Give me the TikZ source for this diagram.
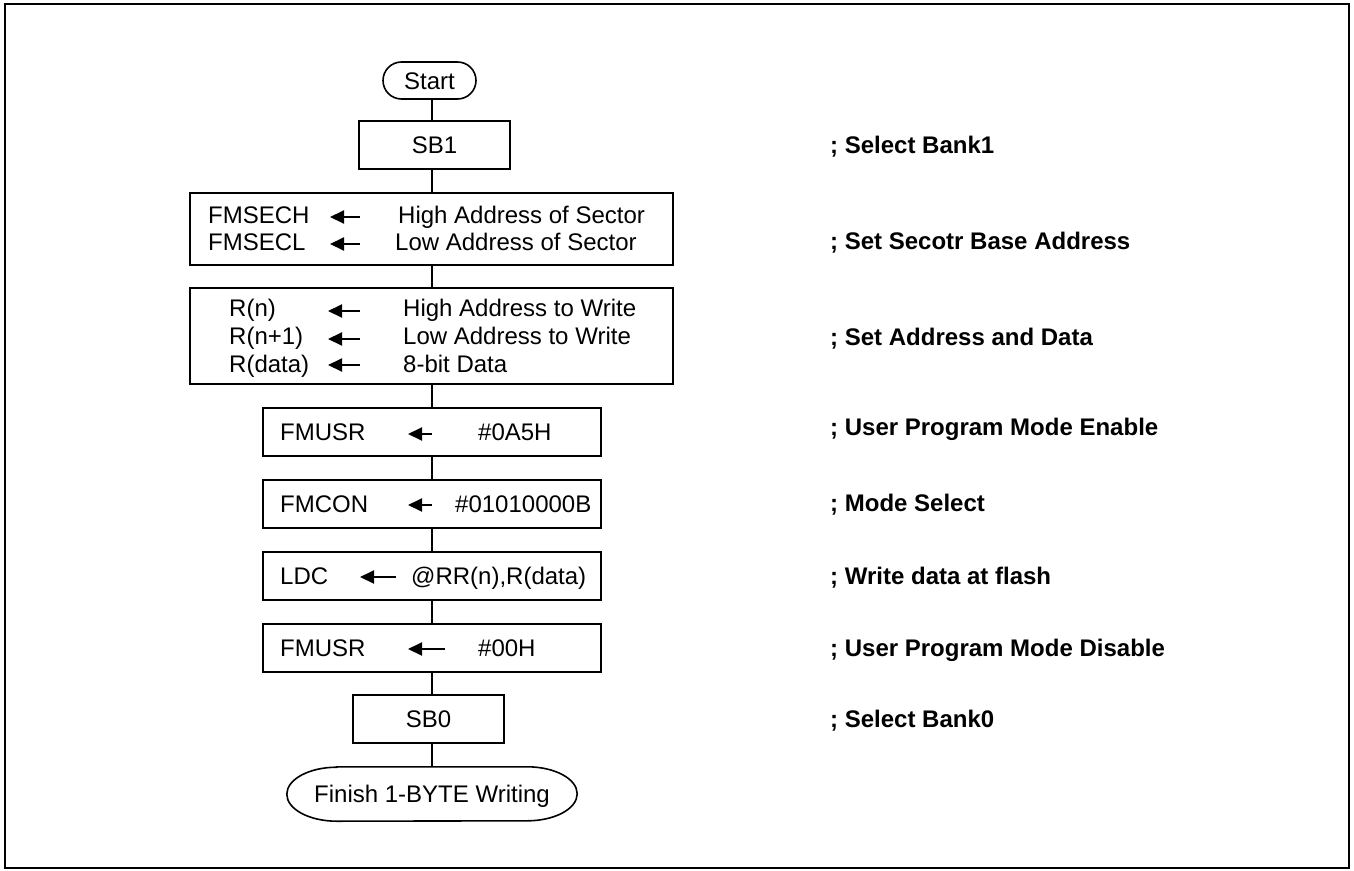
\documentclass[tikz,border=0pt]{standalone}
\usepackage{fontspec}
\setmainfont{Liberation Sans}
\usetikzlibrary{arrows.meta}
\newcommand\dgfont{\fontsize{24}{28}\selectfont}
\begin{document}
\begin{tikzpicture}[x=1pt,y=-1pt,
  box/.style={draw, line width=1.6pt, inner sep=0pt, text height=17pt, text depth=0pt, font=\dgfont},
  txt/.style={inner sep=0pt, text height=17pt, text depth=0pt, anchor=west, font=\dgfont},
  lbl/.style={txt, font=\dgfont\bfseries},
  asg/.style={-{Triangle[length=14pt,width=13pt]}, line width=2pt},
  conn/.style={line width=1.6pt}]
\useasboundingbox (0,0) rectangle (1354,870);
\draw[line width=2.7pt] (5,4) rectangle (1349,868);
\coordinate (axis) at (432,0);

% flow boxes
\node[box, rounded corners=18.5pt, minimum width=93pt, minimum height=37pt] (start) at (429.5,80.5) {Start};
\node[box, minimum width=151pt, minimum height=48pt] (sb1) at (434.5,145) {SB1};
\node[box, minimum width=483pt, minimum height=72pt] (fmsec) at (431.5,229) {};
\node[box, minimum width=483pt, minimum height=96pt] (rbox) at (431.5,336) {};
\node[box, minimum width=338pt, minimum height=48pt] (fmusr) at (432,432) {};
\node[box, minimum width=338pt, minimum height=48pt] (fmcon) at (432,504) {};
\node[box, minimum width=338pt, minimum height=48pt] (ldc) at (432,576) {};
\node[box, minimum width=338pt, minimum height=48pt] (fmusrb) at (432,648) {};
\node[box, minimum width=151pt, minimum height=48pt] (sb0) at (428.5,719) {SB0};
\node[inner sep=0pt, minimum width=290pt, minimum height=54pt, text height=17pt, text depth=0pt, font=\dgfont] (fin) at (432,794) {Finish 1-BYTE Writing};
\draw[line width=1.6pt] ([xshift=50pt]fin.north west) -- ([xshift=-50pt]fin.north east)
  arc[start angle=90,end angle=-90,x radius=50pt,y radius=27pt]
  -- ([xshift=50pt]fin.south west)
  arc[start angle=270,end angle=90,x radius=50pt,y radius=27pt] -- cycle;

% connectors
\draw[conn] (start.south -| axis) -- (sb1.north -| axis);
\draw[conn] (sb1.south -| axis) -- (fmsec.north -| axis);
\draw[conn] (fmsec.south -| axis) -- (rbox.north -| axis);
\draw[conn] (rbox.south -| axis) -- (fmusr.north -| axis);
\draw[conn] (fmusr.south -| axis) -- (fmcon.north -| axis);
\draw[conn] (fmcon.south -| axis) -- (ldc.north -| axis);
\draw[conn] (ldc.south -| axis) -- (fmusrb.north -| axis);
\draw[conn] (fmusrb.south -| axis) -- (sb0.north -| axis);
\draw[conn] (sb0.south -| axis) -- (fin.north -| axis);

% FMSECH / FMSECL
\node[txt] (t1a) at (208,215) {FMSECH};
\node[txt] (t1b) at (208,242) {FMSECL};
\node[txt] (t1c) at (398,215) {High Address of Sector};
\node[txt] (t1d) at (395,242) {Low Address of Sector};
\coordinate (a1s) at (360,217); \coordinate (a1e) at (330,217);
\coordinate (a2s) at (360,244); \coordinate (a2e) at (330,244);
\draw[asg] (a1s) -- (a1e);
\draw[asg] (a2s) -- (a2e);

% R(n) box
\node[txt] (t2a) at (229,308) {R(n)};
\node[txt] (t2b) at (229,336) {R(n+1)};
\node[txt] (t2c) at (229,364) {R(data)};
\node[txt] (t2d) at (403,308) {High Address to Write};
\node[txt] (t2e) at (403,336) {Low Address to Write};
\node[txt] (t2f) at (403,364) {8-bit Data};
\coordinate (a3s) at (360,311); \coordinate (a3e) at (328,311);
\coordinate (a4s) at (360,339); \coordinate (a4e) at (328,339);
\coordinate (a5s) at (360,365); \coordinate (a5e) at (328,365);
\draw[asg] (a3s) -- (a3e);
\draw[asg] (a4s) -- (a4e);
\draw[asg] (a5s) -- (a5e);

% FMUSR #0A5H
\node[txt] (t3a) at (280,432) {FMUSR};
\node[txt] (t3b) at (478,432) {\#0A5H};
\coordinate (a6s) at (432,434); \coordinate (a6e) at (408,434);
\draw[asg] (a6s) -- (a6e);

% FMCON
\node[txt] (t4a) at (280,504) {FMCON};
\node[txt] (t4b) at (455,504) {\#01010000B};
\coordinate (a7s) at (432,505); \coordinate (a7e) at (408,505);
\draw[asg] (a7s) -- (a7e);

% LDC
\node[txt] (t5a) at (280,576) {LDC};
\node[txt] (t5b) at (411,576) {@RR(n),R(data)};
\coordinate (a8s) at (396,577); \coordinate (a8e) at (360,577);
\draw[asg] (a8s) -- (a8e);

% FMUSR #00H
\node[txt] (t6a) at (280,648) {FMUSR};
\node[txt] (t6b) at (478,648) {\#00H};
\coordinate (a9s) at (445,649); \coordinate (a9e) at (408,649);
\draw[asg] (a9s) -- (a9e);

% comments
\node[lbl] (c1) at (830,145) {; Select Bank1};
\node[lbl] (c2) at (830,241) {; Set Secotr Base Address};
\node[lbl] (c3) at (830,337) {; Set Address and Data};
\node[lbl] (c4) at (830,427) {; User Program Mode Enable};
\node[lbl] (c5) at (830,503) {; Mode Select};
\node[lbl] (c6) at (830,576) {; Write data at flash};
\node[lbl] (c7) at (830,648) {; User Program Mode Disable};
\node[lbl] (c8) at (830,719) {; Select Bank0};
\end{tikzpicture}
\end{document}
